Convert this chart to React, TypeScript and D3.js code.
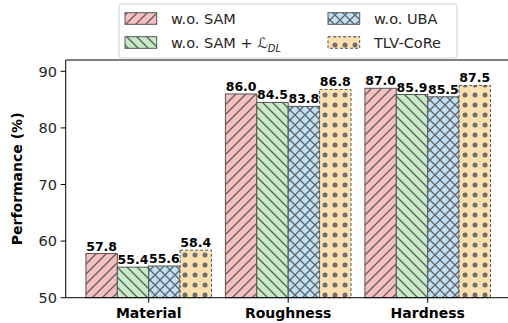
import React from "react";
import * as d3 from "d3";

// chart data
const categories = ["Material", "Roughness", "Hardness"];
const seriesNames = ["w.o. SAM", "w.o. SAM + L_DL", "w.o. UBA", "TLV-CoRe"];
const woSam = [57.8, 86.0, 87.0];
const woSamLdl = [55.4, 84.5, 85.9];
const woUba = [55.6, 83.8, 85.5];
const tlvCore = [58.4, 86.8, 87.5];
const yTicks = [50, 60, 70, 80, 90];

const width = 508;
const height = 323;
const barWidth = 0.225;

const fills = ["#f7bfbf", "#c6ebc6", "#bfe1f8", "#fde0af"];
const patternIds = ["hatch-fwd", "hatch-back", "hatch-cross", "hatch-dots"];
const font = "DejaVu Sans, sans-serif";

const Patterns = () => {
    const s = 10;
    const stroke = "#626262";
    return (
        <defs>
            <pattern id="hatch-fwd" patternUnits="userSpaceOnUse" width={s} height={s}>
                <rect width={s} height={s} fill={fills[0]} />
                <path d={`M0,${s} L${s},0 M${-s / 2},${s / 2} L${s / 2},${-s / 2} M${s / 2},${1.5 * s} L${1.5 * s},${s / 2}`}
                    stroke={stroke} strokeWidth={1.4} />
            </pattern>
            <pattern id="hatch-back" patternUnits="userSpaceOnUse" width={s} height={s}>
                <rect width={s} height={s} fill={fills[1]} />
                <path d={`M0,0 L${s},${s} M${-s / 2},${s / 2} L${s / 2},${1.5 * s} M${s / 2},${-s / 2} L${1.5 * s},${s / 2}`}
                    stroke={stroke} strokeWidth={1.4} />
            </pattern>
            <pattern id="hatch-cross" patternUnits="userSpaceOnUse" width={s} height={s}>
                <rect width={s} height={s} fill={fills[2]} />
                <path d={`M0,${s} L${s},0 M${-s / 2},${s / 2} L${s / 2},${-s / 2} M${s / 2},${1.5 * s} L${1.5 * s},${s / 2}
                    M0,0 L${s},${s} M${-s / 2},${s / 2} L${s / 2},${1.5 * s} M${s / 2},${-s / 2} L${1.5 * s},${s / 2}`}
                    stroke={stroke} strokeWidth={1.3} />
            </pattern>
            <pattern id="hatch-dots" patternUnits="userSpaceOnUse" width={s} height={s}>
                <rect width={s} height={s} fill={fills[3]} />
                <circle cx={s / 2} cy={s / 2} r={2.5} fill="#6e6e6e" />
            </pattern>
        </defs>
    );
};

export default function App() {
    const series = [woSam, woSamLdl, woUba, tlvCore];

    const x = d3.scaleLinear().domain([-0.595, 2.595]).range([65.7, 510.7]);
    const y = d3.scaleLinear().domain([50, 92]).range([297.7, 60]);

    const offsets = series.map((_, i) => (i - 1.5) * barWidth);
    const bw = x(barWidth) - x(0);

    // legend layout
    const legendX = 119;
    const legendY = 4;
    const legendW = 338;
    const legendH = 54;
    const colX = [125, 328];
    const rowY = [18.5, 42.5];

    const legendLabel = (i: number) => {
        if (i !== 1) return seriesNames[i];
        return (
            <>
                w.o. SAM + <tspan>ℒ</tspan>
                <tspan fontStyle="italic" fontSize={10} dy={4}>DL</tspan>
            </>
        );
    };

    return (
        <div style={{ position: "fixed", left: 0, top: 0 }}>
            <svg width={width} height={height} style={{ display: "block", background: "#fff" }} fontFamily={font}>
                <Patterns />

                {/* bars */}
                {series.map((vals, i) => (
                    <g key={seriesNames[i]}>
                        {vals.map((v, j) => (
                            <rect key={categories[j]}
                                x={x(j + offsets[i]) - bw / 2}
                                y={y(v)}
                                width={bw}
                                height={y(50) - y(v)}
                                fill={`url(#${patternIds[i]})`}
                                stroke="#555"
                                strokeWidth={1}
                                strokeDasharray={i === 3 ? "3,2" : undefined} />
                        ))}
                    </g>
                ))}

                {/* value labels */}
                {series.map((vals, i) => vals.map((v, j) => (
                    <text key={`${i}-${j}`}
                        x={x(j + offsets[i])}
                        y={y(v) - 3}
                        textAnchor="middle"
                        fontSize={12.5}
                        fontWeight="bold"
                        fill="#000">
                        {v.toFixed(1)}
                    </text>
                )))}

                {/* axes spines */}
                <line x1={65.7} x2={65.7} y1={60} y2={297.7} stroke="#000" strokeWidth={1} />
                <line x1={65.7} x2={width} y1={297.7} y2={297.7} stroke="#000" strokeWidth={1} />
                <line x1={65.7} x2={width} y1={60} y2={60} stroke="#000" strokeWidth={1} />

                {/* y ticks */}
                {yTicks.map(t => (
                    <g key={t}>
                        <line x1={60.7} x2={65.7} y1={y(t)} y2={y(t)} stroke="#000" />
                        <text x={57} y={y(t)} dy="0.36em" textAnchor="end" fontSize={14.5} fill="#262626">{t}</text>
                    </g>
                ))}

                {/* x ticks */}
                {categories.map((c, j) => (
                    <g key={c}>
                        <line x1={x(j)} x2={x(j)} y1={297.7} y2={302.7} stroke="#000" />
                        <text x={x(j)} y={318} textAnchor="middle" fontSize={14} fontWeight="bold" fill="#000">{c}</text>
                    </g>
                ))}

                {/* y label */}
                <text transform={`translate(22, ${(60 + 297.7) / 2}) rotate(-90)`} textAnchor="middle"
                    fontSize={14} fontWeight="bold" fill="#000">Performance (%)</text>

                {/* legend */}
                <rect x={legendX} y={legendY} width={legendW} height={legendH} rx={3}
                    fill="#fff" fillOpacity={0.85} stroke="#d0d0d0" strokeWidth={1} />
                {seriesNames.map((name, i) => {
                    const cx = colX[i >= 2 ? 1 : 0];
                    const cy = rowY[i % 2];
                    return (
                        <g key={name}>
                            <rect x={cx} y={cy - 5.8} width={31.7} height={11.6}
                                fill={`url(#${patternIds[i]})`} stroke="#555" strokeWidth={1}
                                strokeDasharray={i === 3 ? "3,2" : undefined} />
                            <text x={cx + 46} y={cy} dy="0.36em" fontSize={14.5} fill="#262626">{legendLabel(i)}</text>
                        </g>
                    );
                })}
            </svg>
        </div>
    );
}
